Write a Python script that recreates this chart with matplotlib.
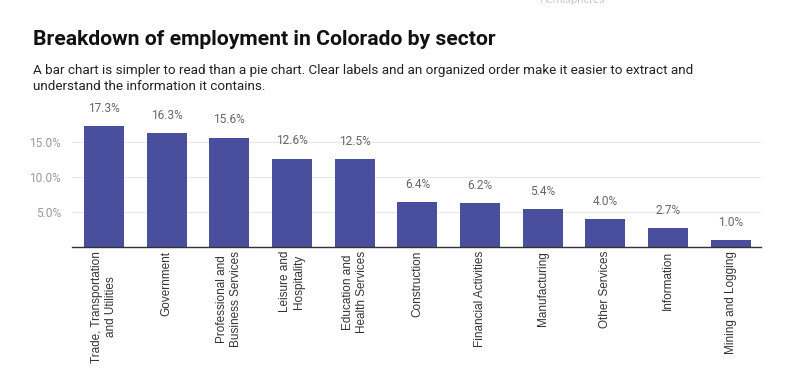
import matplotlib.pyplot as plt

sectors = ['Trade, Transportation\nand Utilities', 'Government',
           'Professional and\nBusiness Services', 'Leisure and\nHospitality',
           'Education and\nHealth Services', 'Construction',
           'Financial Activities', 'Manufacturing', 'Other Services',
           'Information', 'Mining and Logging']
share = [17.3, 16.3, 15.6, 12.6, 12.5, 6.4, 6.2, 5.4, 4.0, 2.7, 1.0]
yticks = [5, 10, 15]

fig = plt.figure(figsize=(8, 3.75), dpi=100)
ax = fig.add_axes([0.09, 0.342, 0.861, 0.364])

x = range(len(share))
ax.bar(x, share, width=0.64, color='#4a4f9d', zorder=2)
for xi, v in zip(x, share):
    ax.annotate(f'{v:.1f}%', (xi, v), xytext=(0, 8), textcoords='offset points',
                ha='center', va='bottom', fontsize=8.6, color='#666666',
                family='Roboto')

ax.set_xlim(-0.51, 10.48)
ax.set_ylim(0, 19.5)
ax.set_yticks(yticks)
ax.set_yticklabels([f'{t:.1f}%' for t in yticks], family='Roboto',
                   fontsize=8.6, color='#999999')
ax.grid(axis='y', color='#e8e8e8', linewidth=0.8, zorder=0)
ax.tick_params(axis='y', length=0, pad=8)
ax.tick_params(axis='x', length=0, pad=3)
ax.set_xticks(list(x))
ax.set_xticklabels(sectors, rotation=90, fontsize=8.5, family='Liberation Sans',
                   color='#333333', va='top', ha='center', linespacing=1.25)
for s in ['top', 'right', 'left']:
    ax.spines[s].set_visible(False)
ax.spines['bottom'].set_color('#333333')
ax.spines['bottom'].set_linewidth(1)

fig.text(0.041, 0.88, 'Breakdown of employment in Colorado by sector',
         family='Roboto', weight='bold', fontsize=15.2, color='#111111',
         va='baseline')
fig.text(0.041, 1 - 74 / 375, 'A bar chart is simpler to read than a pie chart. Clear labels and an '
         'organized order make it easier to extract and',
         family='Roboto', fontsize=9.7, color='#222222', va='baseline')
fig.text(0.041, 1 - 90 / 375, 'understand the information it contains.',
         family='Roboto', fontsize=9.7, color='#222222', va='baseline')
fig.text(0.715, 1.0, 'Hemispheres', family='Roboto', fontsize=8, color='#c8c8c8',
         ha='center', va='center')

fig.savefig('out.png', dpi=100)
